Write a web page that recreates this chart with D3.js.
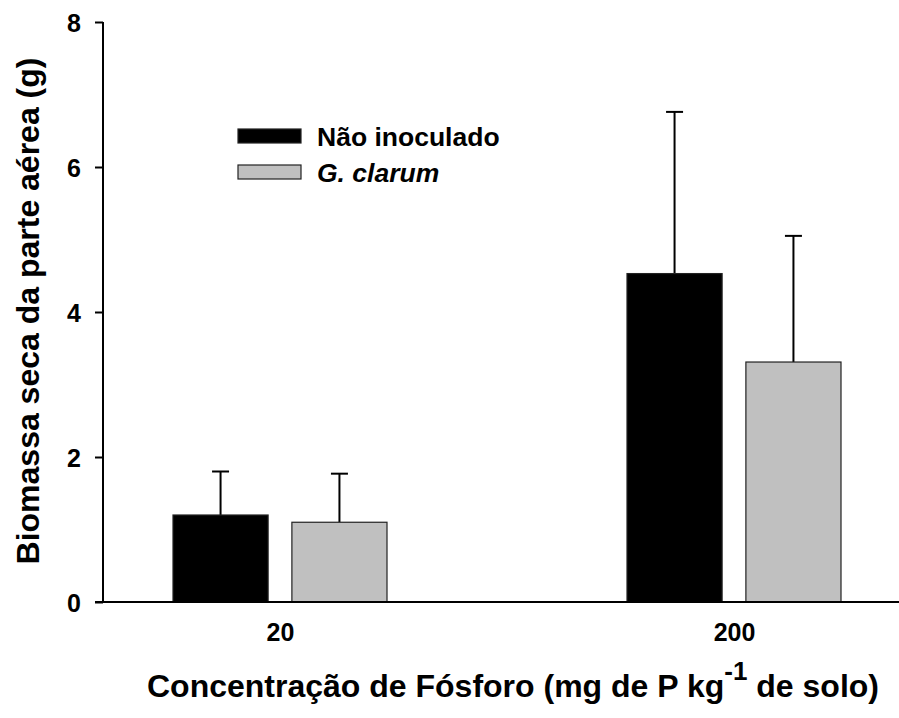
<!DOCTYPE html>
<html>
<head>
<meta charset="utf-8">
<script src="https://cdn.jsdelivr.net/npm/d3@7"></script>
<style>
  body { margin: 0; background: #fff; }
  svg text { font-family: "Liberation Sans", Arial, sans-serif; font-weight: bold; fill: #000; }
</style>
</head>
<body>
<svg id="chart" width="899" height="718"></svg>
<script>
let WIDTH = 899, HEIGHT = 718;
let M = { top: 22, right: 0, bottom: 116, left: 103 };

// data
let groups = ["20", "200"];
let series = ["Não inoculado", "G. clarum"];
let meanNaoInoc = [1.20, 4.53];
let meanClarum = [1.10, 3.31];
let errNaoInoc = [0.60, 2.23];
let errClarum = [0.67, 1.74];
let yTicks = [0, 2, 4, 6, 8];
let fills = ["#000000", "#c0c0c0"];

let rows = groups.map(function (g, i) {
    return {
        group: g,
        bars: [
            { s: series[0], v: meanNaoInoc[i], e: errNaoInoc[i], c: fills[0] },
            { s: series[1], v: meanClarum[i], e: errClarum[i], c: fills[1] }
        ]
    };
});

let svg = d3.select("#chart");

let y = d3.scaleLinear().domain([0, 8]).range([HEIGHT - M.bottom, M.top]);
let x = d3.scalePoint().domain(groups).range([280, 734]);
let xs = d3.scaleBand().domain(series).range([-107, 107]).paddingInner(0.2).paddingOuter(0);

// bars + upper error bars
let gGroups = svg.selectAll("g.grp")
    .data(rows)
    .join("g")
    .attr("class", "grp")
    .attr("transform", d => `translate(${x(d.group)},0)`);

gGroups.selectAll("line.err")
    .data(d => d.bars)
    .join("line")
    .attr("class", "err")
    .attr("x1", d => xs(d.s) + xs.bandwidth() / 2)
    .attr("x2", d => xs(d.s) + xs.bandwidth() / 2)
    .attr("y1", d => y(d.v))
    .attr("y2", d => y(d.v + d.e))
    .attr("stroke", "#000")
    .attr("stroke-width", 2);

gGroups.selectAll("line.cap")
    .data(d => d.bars)
    .join("line")
    .attr("class", "cap")
    .attr("x1", d => xs(d.s) + xs.bandwidth() / 2 - 8.5)
    .attr("x2", d => xs(d.s) + xs.bandwidth() / 2 + 8.5)
    .attr("y1", d => y(d.v + d.e))
    .attr("y2", d => y(d.v + d.e))
    .attr("stroke", "#000")
    .attr("stroke-width", 2);

gGroups.selectAll("rect")
    .data(d => d.bars)
    .join("rect")
    .attr("x", d => xs(d.s))
    .attr("width", xs.bandwidth())
    .attr("y", d => y(d.v))
    .attr("height", d => y(0) - y(d.v))
    .attr("fill", d => d.c)
    .attr("stroke", "#222")
    .attr("stroke-width", 1.2);

// y axis
let yAxis = svg.append("g")
    .attr("transform", `translate(${M.left},0)`)
    .call(d3.axisLeft(y).tickValues(yTicks).tickSize(8).tickPadding(14).tickFormat(d3.format("d")));
yAxis.select(".domain").attr("stroke-width", 2).attr("d", `M0,${y(8)}V${y(0)}`);
yAxis.selectAll(".tick line").attr("stroke-width", 2);
yAxis.selectAll(".tick text")
    .attr("dy", "0.36em")
    .style("font-size", "25px")
    .style("font-family", "Liberation Sans, Arial, sans-serif")
    .style("font-weight", "bold");

// x baseline
svg.append("line")
    .attr("x1", M.left - 8).attr("x2", WIDTH)
    .attr("y1", y(0)).attr("y2", y(0))
    .attr("stroke", "#000").attr("stroke-width", 2);

// x tick labels
let xAxis = svg.append("g")
    .attr("transform", `translate(0,${y(0)})`)
    .call(d3.axisBottom(x).tickSize(0).tickPadding(21.5));
xAxis.select(".domain").remove();
xAxis.selectAll(".tick text")
    .style("font-size", "25px")
    .style("font-family", "Liberation Sans, Arial, sans-serif")
    .style("font-weight", "bold");

// axis titles
svg.append("text")
    .attr("transform", `translate(39, 311) rotate(-90)`)
    .attr("text-anchor", "middle")
    .style("font-size", "32px")
    .text("Biomassa seca da parte aérea (g)");

let xt = svg.append("text")
    .attr("x", 147)
    .attr("y", 697)
    .style("font-size", "32px");
xt.append("tspan").text("Concentração de Fósforo (mg de P kg");
xt.append("tspan").style("font-size", "26px").attr("dy", -17).text("-1");
xt.append("tspan").attr("dy", 17).text(" de solo)");

// legend
let legend = svg.append("g").attr("transform", "translate(238,129)");
let li = legend.selectAll("g")
    .data(series)
    .join("g")
    .attr("transform", (d, i) => `translate(0,${i * 36})`);
li.append("rect")
    .attr("width", 63).attr("height", 14)
    .attr("fill", (d, i) => fills[i])
    .attr("stroke", "#222").attr("stroke-width", 1.2);
li.append("text")
    .attr("x", 79).attr("y", 17)
    .style("font-size", "26.5px")
    .style("font-style", (d, i) => i === 1 ? "italic" : "normal")
    .text(d => d);
</script>
</body>
</html>
